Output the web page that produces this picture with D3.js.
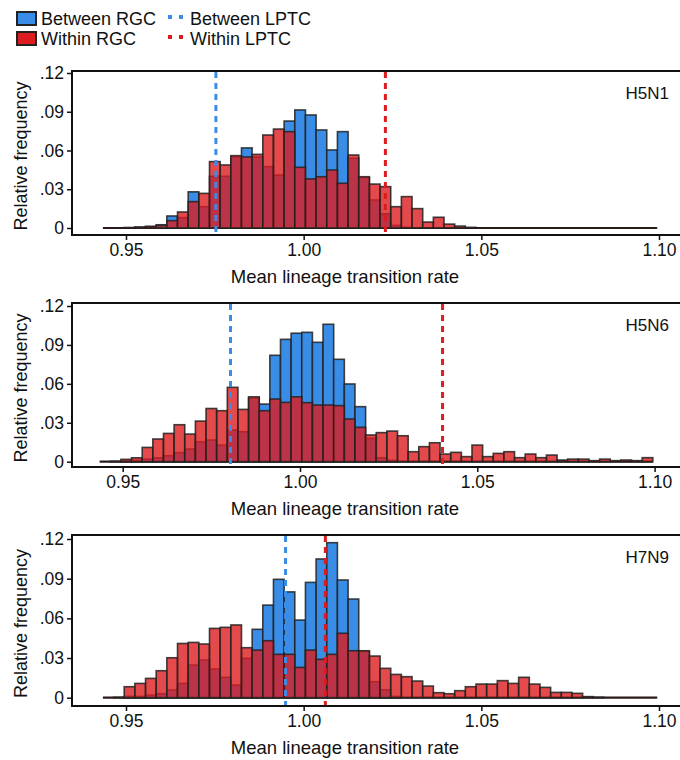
<!DOCTYPE html>
<html>
<head>
<meta charset="utf-8">
<script src="https://cdn.jsdelivr.net/npm/d3@7"></script>
<style>
  body { margin: 0; background: #fff; }
  text { font-family: "Liberation Sans", Arial, sans-serif; fill: #111; }
</style>
</head>
<body>
<div id="chart"></div>
<script>
// histogram bins: 52 bins of width 0.003 starting at 0.9435
const binStart = 0.9435;
const binWidth = 0.003;

const subtypes = ["H5N1", "H5N6", "H7N9"];

const betweenH5N1 = [0, 0, 0, 0.0005, 0.001, 0.0025, 0.0093, 0.008, 0.028, 0.0165,
  0.040, 0.040, 0.055, 0.062, 0.055, 0.0475, 0.041, 0.0828, 0.0914, 0.0875,
  0.0759, 0.0604, 0.0746, 0.054, 0.039, 0.0217, 0.011, 0.002, 0.0005, 0,
  0, 0, 0, 0, 0, 0, 0, 0, 0, 0, 0, 0, 0, 0, 0, 0, 0, 0, 0, 0, 0, 0];
const withinH5N1 = [0, 0, 0.0004, 0.0008, 0.0013, 0.002, 0.0057, 0.0124, 0.0204, 0.0268,
  0.0514, 0.0488, 0.056, 0.055, 0.057, 0.072, 0.0766, 0.0746, 0.047, 0.038,
  0.0397, 0.0449, 0.0346, 0.0565, 0.0397, 0.034, 0.032, 0.0165, 0.0243, 0.015,
  0.0046, 0.0083, 0.003, 0.0015, 0.0005, 0, 0, 0, 0, 0, 0, 0, 0, 0, 0, 0, 0, 0, 0, 0, 0, 0];

const betweenH5N6 = [0, 0, 0.0005, 0.001, 0.002, 0.003, 0.0046, 0.007, 0.0098, 0.0154,
  0.0167, 0.0128, 0.0244, 0.0231, 0.049, 0.0444, 0.082, 0.0943, 0.099, 0.0997,
  0.092, 0.1059, 0.0789, 0.0599, 0.0424, 0.018, 0.003, 0.001, 0, 0,
  0, 0, 0, 0, 0, 0, 0, 0, 0, 0, 0, 0, 0, 0, 0, 0, 0, 0, 0, 0, 0, 0];
const withinH5N6 = [0, 0.0003, 0.0018, 0.003, 0.011, 0.0175, 0.0218, 0.0285, 0.0213, 0.0313,
  0.041, 0.0393, 0.0573, 0.0403, 0.050, 0.0393, 0.0483, 0.0457, 0.050, 0.0455,
  0.0437, 0.0437, 0.0432, 0.0329, 0.0265, 0.0206, 0.0224, 0.0236, 0.020, 0.0077,
  0.0116, 0.0146, 0.0059, 0.0072, 0.0039, 0.0128, 0.0039, 0.0064, 0.0077, 0.0031,
  0.0059, 0.0031, 0.0051, 0.0013, 0.002, 0.002, 0.0008, 0.002, 0.0008, 0.0013, 0.0008, 0.0031];

const betweenH7N9 = [0, 0, 0.001, 0.001, 0.002, 0.003, 0.0058, 0.0108, 0.0247, 0.0285,
  0.0217, 0.0154, 0.0096, 0.0297, 0.0517, 0.070, 0.0895, 0.080, 0.0587, 0.0872,
  0.1049, 0.1172, 0.089, 0.0746, 0.035, 0.0121, 0.006, 0.001, 0, 0,
  0, 0, 0, 0, 0, 0, 0, 0, 0, 0, 0, 0, 0, 0, 0, 0, 0, 0, 0, 0, 0, 0];
const withinH7N9 = [0, 0.0003, 0.0083, 0.0108, 0.0146, 0.0204, 0.0302, 0.041, 0.0418, 0.0406,
  0.0524, 0.0532, 0.055, 0.0378, 0.036, 0.0431, 0.0328, 0.0328, 0.0229, 0.036,
  0.029, 0.0328, 0.0487, 0.0355, 0.0355, 0.0315, 0.0222, 0.0176, 0.0159, 0.0126,
  0.0088, 0.0038, 0.003, 0.0053, 0.0083, 0.0103, 0.0103, 0.0129, 0.0108, 0.0154,
  0.0103, 0.0078, 0.004, 0.004, 0.0033, 0.0008, 0.0003, 0, 0, 0, 0, 0];

// LPTC reference values (dashed lines)
const betweenLPTC = [0.9753, 0.9804, 0.9949];
const withinLPTC = [1.0230, 1.0402, 1.0061];

const xTicks = [0.95, 1.00, 1.05, 1.10];
const yTicks = [0, 0.03, 0.06, 0.09, 0.12];

const betweenSeries = [betweenH5N1, betweenH5N6, betweenH7N9];
const withinSeries = [withinH5N1, withinH5N6, withinH7N9];

const blue = "#3a8de6";
const red = "#dd1c1f";

// panel placement
const panels = [
  { top: 71, bottom: 235, x0: 126, x1: 659, y0: 228, y1: 73 },
  { top: 303, bottom: 467, x0: 122.7, x1: 654.6, y0: 461.7, y1: 306 },
  { top: 535, bottom: 706, x0: 126, x1: 659, y0: 697.7, y1: 539 }
];
const frameLeft = 72;

const svg = d3.select("#chart").append("svg")
    .attr("width", 680)
    .attr("height", 760);

const yFmt = d => d === 0 ? "0" : d3.format(".2f")(d).replace(/^0/, "");

panels.forEach((p, i) => {
    const g = svg.append("g");

    const xScale = d3.scaleLinear().domain([0.95, 1.10]).range([p.x0, p.x1]);
    const yScale = d3.scaleLinear().domain([0, 0.12]).range([p.y0, p.y1]);

    const bins = betweenSeries[i].map((b, k) => ({
        lo: binStart + k * binWidth,
        hi: binStart + (k + 1) * binWidth,
        between: b,
        within: withinSeries[i][k]
    }));

    // frame
    g.append("rect")
        .attr("x", frameLeft)
        .attr("y", p.top)
        .attr("width", 640)
        .attr("height", p.bottom - p.top)
        .attr("fill", "none")
        .attr("stroke", "#111")
        .attr("stroke-width", 2);

    // baseline under the empty bins
    g.append("line")
        .attr("x1", xScale(bins[0].lo))
        .attr("x2", xScale(bins[bins.length - 1].hi))
        .attr("y1", yScale(0))
        .attr("y2", yScale(0))
        .attr("stroke", "#2a1a1a")
        .attr("stroke-width", 2.2);

    // between RGC bars
    g.append("g").selectAll("rect")
        .data(bins.filter(d => d.between > 0))
        .enter()
        .append("rect")
        .attr("x", d => xScale(d.lo))
        .attr("y", d => yScale(d.between))
        .attr("width", d => xScale(d.hi) - xScale(d.lo))
        .attr("height", d => yScale(0) - yScale(d.between))
        .attr("fill", blue)
        .attr("stroke", "#222")
        .attr("stroke-opacity", 0.85)
        .attr("stroke-width", 1.6);

    // within RGC bars
    g.append("g").selectAll("rect")
        .data(bins.filter(d => d.within > 0))
        .enter()
        .append("rect")
        .attr("x", d => xScale(d.lo))
        .attr("y", d => yScale(d.within))
        .attr("width", d => xScale(d.hi) - xScale(d.lo))
        .attr("height", d => yScale(0) - yScale(d.within))
        .attr("fill", red)
        .attr("fill-opacity", 0.8)
        .attr("stroke", "#222")
        .attr("stroke-opacity", 0.85)
        .attr("stroke-width", 1.6);

    // LPTC lines
    [[betweenLPTC[i], blue], [withinLPTC[i], red]].forEach(([v, c]) => {
        g.append("line")
            .attr("x1", xScale(v))
            .attr("x2", xScale(v))
            .attr("y1", p.top + 1)
            .attr("y2", p.bottom - 1)
            .attr("stroke", c)
            .attr("stroke-width", 3)
            .attr("stroke-dasharray", "6,5");
    });

    // axes
    const yAxis = g.append("g")
        .attr("transform", `translate(${frameLeft}, 0)`)
        .call(d3.axisLeft(yScale).tickValues(yTicks).tickFormat(yFmt).tickSize(5).tickPadding(3));
    yAxis.select(".domain").remove();
    yAxis.selectAll("line").attr("stroke", "#111").attr("stroke-width", 1.5);
    yAxis.selectAll("text").style("font-size", "17.5px").attr("fill", "#111");

    const xAxis = g.append("g")
        .attr("transform", `translate(0, ${p.bottom})`)
        .call(d3.axisBottom(xScale).tickValues(xTicks).tickFormat(d3.format(".2f")).tickSize(5).tickPadding(4));
    xAxis.select(".domain").remove();
    xAxis.selectAll("line").attr("stroke", "#111").attr("stroke-width", 1.5);
    xAxis.selectAll("text").style("font-size", "17.5px").attr("fill", "#111");

    // axis titles
    g.append("text")
        .attr("transform", `translate(22, ${(p.top + p.bottom) / 2 + 3}) rotate(-90)`)
        .attr("text-anchor", "middle")
        .attr("dominant-baseline", "middle")
        .style("font-size", "18px")
        .text("Relative frequency");

    g.append("text")
        .attr("x", 345)
        .attr("y", p.bottom + 48)
        .attr("text-anchor", "middle")
        .style("font-size", "18.5px")
        .text("Mean lineage transition rate");

    // subtype label
    g.append("text")
        .attr("x", 669)
        .attr("y", p.top + 28)
        .attr("text-anchor", "end")
        .style("font-size", "17px")
        .text(subtypes[i]);
});

// legend
const legend = svg.append("g");
const legendItems = [
    { label: "Between RGC", color: blue, type: "box", x: 17, y: 12 },
    { label: "Within RGC", color: red, type: "box", x: 17, y: 32 },
    { label: "Between LPTC", color: blue, type: "dots", x: 168, y: 12 },
    { label: "Within LPTC", color: red, type: "dots", x: 168, y: 32 }
];
legendItems.forEach(d => {
    if (d.type === "box") {
        legend.append("rect")
            .attr("x", d.x)
            .attr("y", d.y)
            .attr("width", 19)
            .attr("height", 13)
            .attr("fill", d.color)
            .attr("stroke", "#222")
            .attr("stroke-width", 2);
    } else {
        [0, 11].forEach(dx => {
            legend.append("rect")
                .attr("x", d.x + dx)
                .attr("y", d.y + 3)
                .attr("width", 4)
                .attr("height", 4)
                .attr("fill", d.color);
        });
    }
    legend.append("text")
        .attr("x", d.type === "box" ? 41 : 190)
        .attr("y", d.y + 13)
        .style("font-size", "18px")
        .text(d.label);
});
</script>
</body>
</html>
